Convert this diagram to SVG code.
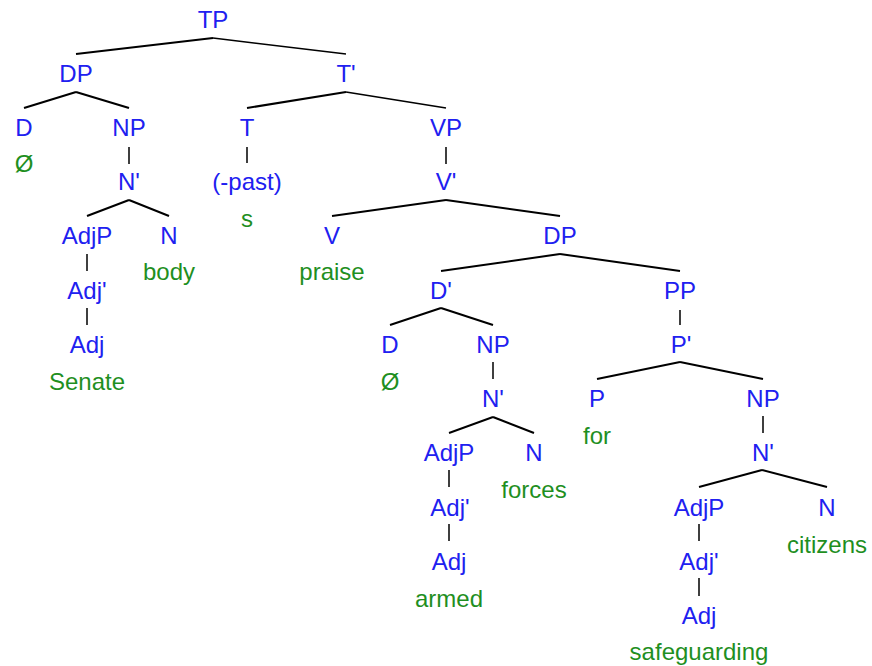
<svg xmlns="http://www.w3.org/2000/svg" width="872" height="666" viewBox="0 0 872 666">
<style>
text{font-family:"Liberation Sans",Arial,sans-serif;font-size:24px;text-anchor:middle}
.c{fill:#2020f0}
.w{fill:#1f8f1f}
.l{stroke:#000;stroke-width:2;fill:none}
.r{stroke:#000;stroke-width:1.5;fill:none}
.v{stroke:#000;stroke-width:1.5;fill:none}
</style>
<rect width="872" height="666" fill="#fff"/>
<g id="connectors">
<path class="l" d="M213,38L76,54"/><path class="r" d="M213,38L346,54"/>
<path class="l" d="M76,92L24,108"/><path class="l" d="M76,92L129,108"/>
<path class="l" d="M346,92L247,108"/><path class="r" d="M346,92L446,108"/>
<path class="v" d="M129,147V164M247,147V163M446,147V164"/>
<path class="l" d="M129,200L87,216"/><path class="l" d="M129,200L169,216"/>
<path class="l" d="M446,200L332,216"/><path class="l" d="M446,200L560,216"/>
<path class="v" d="M87,254V271"/>
<path class="l" d="M560,254L441,271"/><path class="l" d="M560,254L680,271"/>
<path class="v" d="M87,308V325M680,310V325"/>
<path class="l" d="M441,308L390,325"/><path class="l" d="M441,308L493,325"/>
<path class="v" d="M493,362V379"/>
<path class="l" d="M680,362L597,379"/><path class="l" d="M680,362L763,379"/>
<path class="l" d="M493,417L449,433"/><path class="l" d="M493,417L534,433"/>
<path class="v" d="M763,416V433M449,470V487"/>
<path class="l" d="M762,470L699,487"/><path class="l" d="M762,470L827,487"/>
<path class="v" d="M449,524V541M699,524V541M699,578V596"/>
</g>
<g id="TP"><text class="c" x="213" y="28">TP</text></g>
<g id="DP1"><text class="c" x="76" y="82">DP</text></g>
<g id="Tbar"><text class="c" x="346" y="82">T'</text></g>
<g id="D1"><text class="c" x="24" y="136">D</text><text class="w" x="24" y="172">Ø</text></g>
<g id="NP1"><text class="c" x="129" y="136">NP</text></g>
<g id="T"><text class="c" x="247" y="136">T</text></g>
<g id="VP"><text class="c" x="446" y="136">VP</text></g>
<g id="Nbar1"><text class="c" x="129" y="190">N'</text></g>
<g id="past"><text class="c" x="247" y="190">(-past)</text><text class="w" x="247" y="227">s</text></g>
<g id="Vbar"><text class="c" x="446" y="190">V'</text></g>
<g id="AdjP1"><text class="c" x="87" y="244">AdjP</text></g>
<g id="N1"><text class="c" x="169" y="244">N</text><text class="w" x="169" y="280">body</text></g>
<g id="V"><text class="c" x="332" y="244">V</text><text class="w" x="332" y="280">praise</text></g>
<g id="DP2"><text class="c" x="560" y="244">DP</text></g>
<g id="Adjbar1"><text class="c" x="87" y="299">Adj'</text></g>
<g id="Dbar"><text class="c" x="441" y="299">D'</text></g>
<g id="PP"><text class="c" x="680" y="299">PP</text></g>
<g id="Adj1"><text class="c" x="87" y="353">Adj</text><text class="w" x="87" y="390">Senate</text></g>
<g id="D2"><text class="c" x="390" y="353">D</text><text class="w" x="390" y="390">Ø</text></g>
<g id="NP2"><text class="c" x="493" y="353">NP</text></g>
<g id="Pbar"><text class="c" x="681" y="353">P'</text></g>
<g id="Nbar2"><text class="c" x="493" y="407">N'</text></g>
<g id="P"><text class="c" x="597" y="407">P</text><text class="w" x="597" y="444">for</text></g>
<g id="NP3"><text class="c" x="763" y="407">NP</text></g>
<g id="AdjP2"><text class="c" x="449" y="461">AdjP</text></g>
<g id="N2"><text class="c" x="534" y="461">N</text><text class="w" x="534" y="498">forces</text></g>
<g id="Nbar3"><text class="c" x="763" y="461">N'</text></g>
<g id="Adjbar2"><text class="c" x="450" y="516">Adj'</text></g>
<g id="AdjP3"><text class="c" x="699" y="516">AdjP</text></g>
<g id="N3"><text class="c" x="827" y="516">N</text><text class="w" x="827" y="553">citizens</text></g>
<g id="Adj2"><text class="c" x="449" y="570">Adj</text><text class="w" x="449" y="607">armed</text></g>
<g id="Adjbar3"><text class="c" x="699" y="570">Adj'</text></g>
<g id="Adj3"><text class="c" x="699" y="624">Adj</text><text class="w" x="699" y="660">safeguarding</text></g>
</svg>
